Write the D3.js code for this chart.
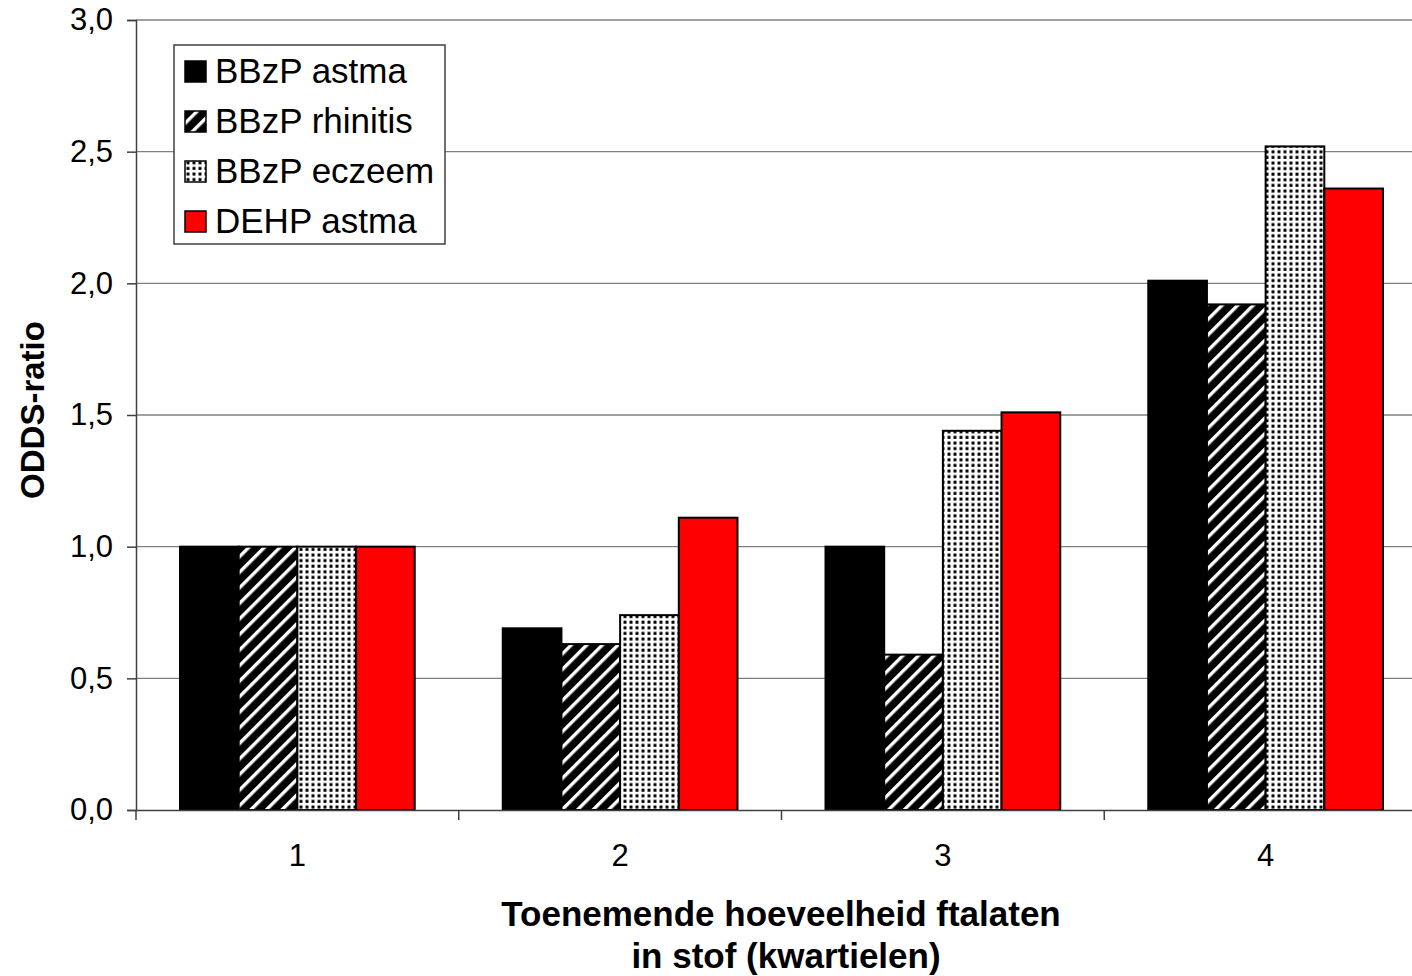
<!DOCTYPE html>
<html>
<head>
<meta charset="utf-8">
<script src="https://cdn.jsdelivr.net/npm/d3@7"></script>
<style>
  body { margin: 0; background: #fff; }
  svg { display: block; font-family: "Liberation Sans", Arial, sans-serif; }
</style>
</head>
<body>
<svg id="chart"></svg>
<script>
const categories = ["1", "2", "3", "4"];
const seriesNames = ["BBzP astma", "BBzP rhinitis", "BBzP eczeem", "DEHP astma"];
const bbzpAstma = [1.0, 0.69, 1.0, 2.01];
const bbzpRhinitis = [1.0, 0.63, 0.59, 1.92];
const bbzpEczeem = [1.0, 0.74, 1.44, 2.52];
const dehpAstma = [1.0, 1.11, 1.51, 2.36];
const yTicks = [0, 0.5, 1.0, 1.5, 2.0, 2.5, 3.0];

const seriesValues = [bbzpAstma, bbzpRhinitis, bbzpEczeem, dehpAstma];
const fills = ["#000", "url(#hatch)", "url(#dots)", "#ff0000"];

const W = 1412, H = 976;
const margin = { top: 20, left: 136 };
const width = 1291, height = 790;

const svg = d3.select("#chart").attr("width", W).attr("height", H);

// patterns
const defs = svg.append("defs");
const hatch = defs.append("pattern")
  .attr("id", "hatch")
  .attr("patternUnits", "userSpaceOnUse")
  .attr("width", 11).attr("height", 11)
  .attr("patternTransform", "rotate(45)");
hatch.append("rect").attr("width", 11).attr("height", 11).attr("fill", "#000");
hatch.append("rect").attr("x", 0).attr("width", 3.4).attr("height", 11).attr("fill", "#fff");

const dots = defs.append("pattern")
  .attr("id", "dots")
  .attr("patternUnits", "userSpaceOnUse")
  .attr("width", 6).attr("height", 5.6);
dots.append("rect").attr("width", 6).attr("height", 5.6).attr("fill", "#fff");
dots.append("rect").attr("x", 1.5).attr("y", 1.5).attr("width", 3).attr("height", 3).attr("fill", "#000");

const g = svg.append("g").attr("transform", `translate(${margin.left},${margin.top})`);

const x0 = d3.scaleBand().domain(categories).range([0, width]).paddingInner(0).paddingOuter(0);
const x1 = d3.scaleBand().domain(seriesNames).range([0, x0.bandwidth()]).paddingInner(0).paddingOuter(0.75);
const y = d3.scaleLinear().domain([0, 3]).range([height, 0]);

// gridlines
g.append("g")
  .selectAll("line")
  .data(yTicks.filter(d => d > 0))
  .enter()
  .append("line")
  .attr("x1", 0).attr("x2", width)
  .attr("y1", d => y(d)).attr("y2", d => y(d))
  .attr("stroke", "#808080")
  .attr("stroke-width", 1.3);

// bars
seriesNames.forEach((name, si) => {
  g.append("g")
    .selectAll("rect")
    .data(seriesValues[si])
    .enter()
    .append("rect")
    .attr("x", (d, i) => x0(categories[i]) + x1(name))
    .attr("y", d => y(d))
    .attr("width", x1.bandwidth())
    .attr("height", d => height - y(d))
    .attr("fill", fills[si])
    .attr("stroke", "#000")
    .attr("stroke-width", 2);
});

// axes
const yAxis = g.append("g")
  .call(d3.axisLeft(y).tickValues(yTicks).tickSize(9).tickPadding(14)
    .tickFormat(d => d3.format(".1f")(d).replace(".", ",")));
yAxis.select(".domain").attr("stroke", "#404040").attr("stroke-width", 1.5);
yAxis.selectAll(".tick line").attr("stroke", "#404040").attr("stroke-width", 1.5);
yAxis.selectAll("text").attr("font-size", 31).attr("fill", "#000")
  .attr("font-family", "Liberation Sans, Arial, sans-serif");

const xAxis = g.append("g")
  .attr("transform", `translate(0,${height})`)
  .call(d3.axisBottom(x0).tickSize(0).tickPadding(34));
xAxis.select(".domain").attr("stroke", "#404040").attr("stroke-width", 1.5);
xAxis.selectAll("text").attr("font-size", 31).attr("fill", "#000")
  .attr("font-family", "Liberation Sans, Arial, sans-serif");

// category boundary ticks
g.append("g")
  .selectAll("line")
  .data(categories)
  .enter()
  .append("line")
  .attr("x1", d => x0(d)).attr("x2", d => x0(d))
  .attr("y1", height).attr("y2", height + 10)
  .attr("stroke", "#404040")
  .attr("stroke-width", 1.5);

// axis titles
svg.append("text")
  .attr("transform", `translate(44,${margin.top + height / 2 - 5}) rotate(-90)`)
  .attr("text-anchor", "middle")
  .attr("font-size", 33)
  .attr("font-weight", "bold")
  .text("ODDS-ratio");

svg.append("text")
  .attr("x", 781).attr("y", 926)
  .attr("text-anchor", "middle")
  .attr("font-size", 35)
  .attr("font-weight", "bold")
  .text("Toenemende hoeveelheid ftalaten");
svg.append("text")
  .attr("x", 786).attr("y", 968)
  .attr("text-anchor", "middle")
  .attr("font-size", 35)
  .attr("font-weight", "bold")
  .text("in stof (kwartielen)");

// legend
const legend = svg.append("g").attr("transform", "translate(174,45)");
legend.append("rect")
  .attr("width", 271).attr("height", 199)
  .attr("fill", "#fff")
  .attr("stroke", "#404040")
  .attr("stroke-width", 1.5);
const items = legend.selectAll("g.item")
  .data(seriesNames)
  .enter()
  .append("g")
  .attr("class", "item")
  .attr("transform", (d, i) => `translate(11,${26 + i * 50})`);
items.append("rect")
  .attr("x", 0).attr("y", -10)
  .attr("width", 21).attr("height", 21)
  .attr("fill", (d, i) => fills[i])
  .attr("stroke", "#000")
  .attr("stroke-width", 1.5);
items.append("text")
  .attr("x", 30).attr("y", 12)
  .attr("font-size", 35)
  .text(d => d);
</script>
</body>
</html>
